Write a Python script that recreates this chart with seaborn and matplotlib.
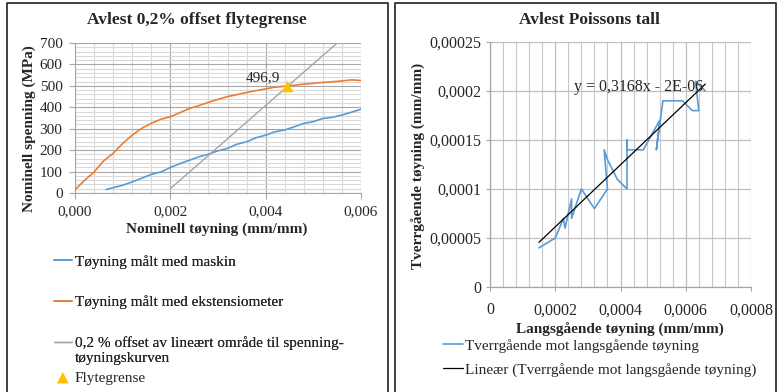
import numpy as np
import pandas as pd
import seaborn as sns
import matplotlib
matplotlib.use("Agg")
import matplotlib.pyplot as plt
from matplotlib.ticker import FixedLocator, MultipleLocator
from matplotlib.lines import Line2D
from matplotlib.legend_handler import HandlerLine2D

# ---------------- data: left panel ----------------
strain_ext = [0, 0.0002, 0.0004, 0.0006, 0.0008, 0.001, 0.0012, 0.0014, 0.0016, 0.0018,
              0.002, 0.0022, 0.0024, 0.0026, 0.0028, 0.003, 0.0032, 0.0034, 0.0036, 0.0038,
              0.004, 0.0042, 0.0044, 0.0046, 0.0048, 0.005, 0.0052, 0.0054, 0.0056, 0.0058, 0.006]
stress_ext = [15, 59, 98, 150, 185, 231, 270, 302, 325, 344,
              356, 375, 394, 408, 423, 437, 450, 459, 469, 478,
              486, 494, 498, 503, 508, 512, 516, 519, 523, 528, 525]

strain_mach = [0.00065, 0.0008, 0.001, 0.0012, 0.0014, 0.0016, 0.0018, 0.002, 0.0022, 0.0024,
               0.0026, 0.0028, 0.003, 0.0032, 0.0034, 0.0036, 0.0038, 0.004, 0.0042, 0.0044,
               0.0046, 0.0048, 0.005, 0.0052, 0.0054, 0.0056, 0.0058, 0.006]
stress_mach = [16, 25, 36, 52, 69, 87, 98, 119, 137, 153,
               169, 181, 197, 208, 228, 239, 258, 270, 286, 294,
               309, 325, 333, 348, 353, 364, 377, 391]

offset_strain = [0.002, 0.0055]
offset_stress = [20, 700]

yield_strain = [0.00446]
yield_stress = [496.9]
yield_text = "496,9"

left_xticks = [0, 0.002, 0.004, 0.006]
left_xticklabels = ["0,000", "0,002", "0,004", "0,006"]
left_yticks = [0, 100, 200, 300, 400, 500, 600, 700]
left_yticklabels = ["0", "100", "200", "300", "400", "500", "600", "700"]

# ---------------- data: right panel ----------------
long_strain = [0.00015, 0.00020, 0.000225, 0.00023, 0.00025, 0.00025, 0.00028, 0.00032, 0.00036,
               0.00035, 0.00036, 0.00039, 0.00042, 0.00042, 0.00042, 0.00047, 0.00052, 0.00051,
               0.00052, 0.00053, 0.00059, 0.00062, 0.00064, 0.00063, 0.00066]
trans_strain = [0.00004, 0.00005, 0.00007, 0.00006, 0.00009, 0.00007, 0.00010, 0.00008, 0.00010,
                0.00014, 0.00013, 0.00011, 0.00010, 0.00015, 0.00014, 0.00014, 0.00017, 0.00014,
                0.000165, 0.00019, 0.00019, 0.00018, 0.00018, 0.00021, 0.00020]
trend_slope = 0.3168
trend_intercept = -2e-6
trend_text = "y = 0,3168x - 2E-06"

right_xticks = [0, 0.0002, 0.0004, 0.0006, 0.0008]
right_xticklabels = ["0", "0,0002", "0,0004", "0,0006", "0,0008"]
right_yticks = [0, 0.00005, 0.0001, 0.00015, 0.0002, 0.00025]
right_yticklabels = ["0", "0,00005", "0,0001", "0,00015", "0,0002", "0,00025"]

# ---------------- style ----------------
sns.set_theme(style="white")
plt.rcParams['font.family'] = ['Liberation Serif', 'DejaVu Serif']
TXT = "#262626"
BLUE = "#5B9BD5"
ORANGE = "#ED7D31"
GRAY = "#A5A5A5"
GOLD = "#FFC000"

W, H = 778, 392
fig = plt.figure(figsize=(W / 100, H / 100), dpi=100)
fig.patch.set_facecolor("white")


def fx(px):
    return px / W


def fy(py):
    return 1 - py / H


class FirstLineHandler(HandlerLine2D):
    """Align the legend line with the first line of a two-line label."""
    def __init__(self, shift, **kw):
        super().__init__(**kw)
        self.shift = shift

    def create_artists(self, legend, orig_handle, xdescent, ydescent, width, height,
                       fontsize, trans):
        arts = super().create_artists(legend, orig_handle, xdescent, ydescent, width,
                                      height, fontsize, trans)
        for a in arts:
            a.set_ydata(np.asarray(a.get_ydata(), dtype=float) + self.shift)
        return arts


# panel borders
for x0, x1 in [(7, 388), (395, 776)]:
    fig.add_artist(Line2D([fx(x0), fx(x0), fx(x1), fx(x1)], [-0.1, fy(3), fy(3), -0.1],
                          transform=fig.transFigure, color="#303030", lw=1.3))

# ---------------- left panel ----------------
ax1 = fig.add_axes([fx(75), fy(193), fx(361) - fx(75), fy(43) - fy(193)])
df_mach = pd.DataFrame({"x": strain_mach, "y": stress_mach})
df_ext = pd.DataFrame({"x": strain_ext, "y": stress_ext})
df_off = pd.DataFrame({"x": offset_strain, "y": offset_stress})
df_yld = pd.DataFrame({"x": yield_strain, "y": yield_stress})

sns.lineplot(data=df_mach, x="x", y="y", ax=ax1, color=BLUE, lw=1.2, sort=False,
             estimator=None, label="Tøyning målt med maskin", zorder=3)
sns.lineplot(data=df_ext, x="x", y="y", ax=ax1, color=ORANGE, lw=1.2, sort=False,
             estimator=None, label="Tøyning målt med ekstensiometer", zorder=3)
sns.lineplot(data=df_off, x="x", y="y", ax=ax1, color=GRAY, lw=1.0, sort=False,
             estimator=None,
             label="0,2 % offset av lineært område til spenning-\ntøyningskurven", zorder=3)
sns.scatterplot(data=df_yld, x="x", y="y", ax=ax1, color=GOLD, marker="^", s=70,
                edgecolor="none", label="Flytegrense", zorder=4)
ax1.text(yield_strain[0] - 0.00051, yield_stress[0] + 43, yield_text, fontsize=11,
         color=TXT, ha="center", va="center")

ax1.set_xlim(0, 0.006)
ax1.set_ylim(0, 700)
ax1.xaxis.set_major_locator(FixedLocator(left_xticks))
ax1.set_xticklabels(left_xticklabels)
ax1.yaxis.set_major_locator(FixedLocator(left_yticks))
ax1.set_yticklabels(left_yticklabels)
ax1.xaxis.set_minor_locator(MultipleLocator(0.0004))
ax1.yaxis.set_minor_locator(MultipleLocator(20))
ax1.grid(which="major", color="#A6A6A6", lw=0.8)
ax1.grid(which="minor", color="#D9D9D9", lw=0.8)
ax1.set_axisbelow(True)
for s in ["top", "right"]:
    ax1.spines[s].set_visible(False)
for s in ["left", "bottom"]:
    ax1.spines[s].set_color("#A6A6A6")
    ax1.spines[s].set_linewidth(0.8)
ax1.tick_params(which="major", length=4, width=0.8, color="#A6A6A6", labelsize=11,
                labelcolor=TXT, direction="out", left=True, bottom=True)
ax1.tick_params(axis="y", pad=5)
ax1.tick_params(axis="x", pad=5)
ax1.tick_params(which="minor", length=0)
ax1.set_xlabel("Nominell tøyning (mm/mm)", fontsize=11, fontweight="bold", color=TXT)
ax1.set_ylabel("Nominell spenning (MPa)", fontsize=11, fontweight="bold", color=TXT)
ax1.xaxis.set_label_coords(0.497, -0.20)
ax1.yaxis.set_label_coords(-0.135, 0.427)
fig.text(fx(197), fy(20), "Avlest 0,2% offset flytegrense", fontsize=12.5,
         fontweight="bold", color=TXT, ha="center", va="center")

h1, l1 = ax1.get_legend_handles_labels()
if ax1.get_legend():
    ax1.get_legend().remove()
leg_a = fig.legend(h1[:3], l1[:3], loc="upper left", bbox_to_anchor=(fx(54), fy(255)),
                   frameon=False, fontsize=11, handlelength=1.15, handletextpad=0.2,
                   labelspacing=1.75, borderpad=0, borderaxespad=0, labelcolor=TXT,
                   handler_map={h1[2]: FirstLineHandler(shift=6.0)})
fig.add_artist(leg_a)
leg_b = fig.legend(h1[3:], l1[3:], loc="upper left", bbox_to_anchor=(fx(54), fy(371)),
                   frameon=False, fontsize=11, handlelength=1.15, handletextpad=0.2,
                   borderpad=0, borderaxespad=0, labelcolor=TXT)

# ---------------- right panel ----------------
ax2 = fig.add_axes([fx(490), fy(287), fx(751) - fx(490), fy(42) - fy(287)])
df_p = pd.DataFrame({"x": long_strain, "y": trans_strain})
tx = np.array([min(long_strain), max(long_strain)])
df_t = pd.DataFrame({"x": tx, "y": trend_slope * tx + trend_intercept})
sns.lineplot(data=df_p, x="x", y="y", ax=ax2, color=BLUE, lw=1.2, sort=False,
             estimator=None, label="Tverrgående mot langsgående tøyning", zorder=3)
sns.lineplot(data=df_t, x="x", y="y", ax=ax2, color="black", lw=0.9, sort=False,
             estimator=None, label="Lineær (Tverrgående mot langsgående tøyning)", zorder=4)
ax2.text(0.000454, 0.000204, trend_text, fontsize=11.5, color=TXT, ha="center", va="center",
         zorder=5)

ax2.set_xlim(0, 0.0008)
ax2.set_ylim(0, 0.00025)
ax2.xaxis.set_major_locator(FixedLocator(right_xticks))
ax2.set_xticklabels(right_xticklabels)
ax2.yaxis.set_major_locator(FixedLocator(right_yticks))
ax2.set_yticklabels(right_yticklabels)
ax2.xaxis.set_minor_locator(MultipleLocator(0.00004))
ax2.grid(which="major", color="#BFBFBF", lw=0.9)
ax2.grid(which="minor", axis="x", color="#C8C8C8", lw=0.8)
ax2.set_axisbelow(True)
for s in ["top", "right"]:
    ax2.spines[s].set_visible(False)
for s in ["left", "bottom"]:
    ax2.spines[s].set_color("#A6A6A6")
    ax2.spines[s].set_linewidth(0.9)
ax2.tick_params(which="major", length=3, width=0.8, color="#A6A6A6", labelsize=11.5,
                labelcolor=TXT, direction="out", left=True, bottom=True)
ax2.tick_params(axis="y", pad=3)
ax2.tick_params(axis="x", pad=8)
ax2.tick_params(which="minor", length=0)
ax2.set_xlabel("Langsgående tøyning (mm/mm)", fontsize=11, fontweight="bold", color=TXT)
ax2.set_ylabel("Tverrgående tøyning (mm/mm)", fontsize=11, fontweight="bold", color=TXT)
ax2.xaxis.set_label_coords(0.498, -0.145)
ax2.yaxis.set_label_coords(-0.245, 0.494)
fig.text(fx(589), fy(20), "Avlest Poissons tall", fontsize=12.5,
         fontweight="bold", color=TXT, ha="center", va="center")

h2, l2 = ax2.get_legend_handles_labels()
if ax2.get_legend():
    ax2.get_legend().remove()
fig.legend(h2, l2, loc="upper left", bbox_to_anchor=(fx(443), fy(339)),
           frameon=False, fontsize=11, handlelength=1.3, handletextpad=0.15,
           labelspacing=0.65, borderpad=0, borderaxespad=0, labelcolor=TXT)

fig.savefig("out.png", dpi=100, facecolor="white")
